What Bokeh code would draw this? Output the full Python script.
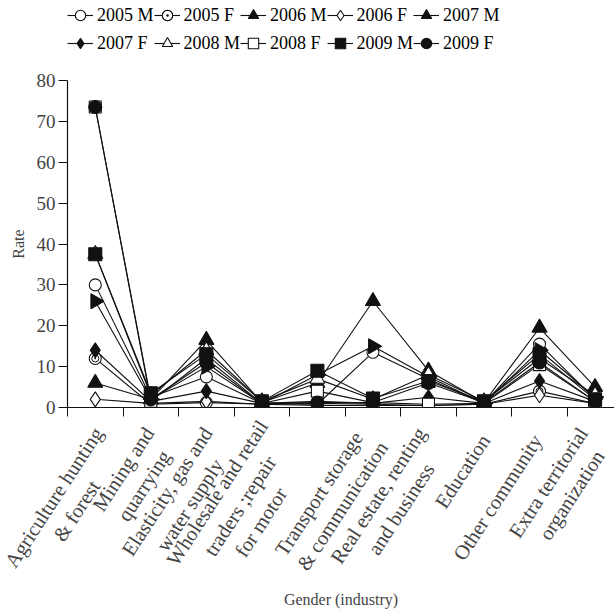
import numpy as np
from bokeh.plotting import figure
from bokeh.layouts import column
from bokeh.models import Range1d, FixedTicker, Legend, LegendItem
from bokeh.embed import file_html
from bokeh.resources import INLINE

# ---- data ----
industry_labels = [
    "Agriculture hunting\n& forest" + " " * 9,
    "Mining and\nquarrying  ",
    "Elasticity, gas and\nwater supply    ",
    "Wholesale and retail\ntraders ;repair     \nfor motor" + " " * 9,
    "Transport storage \n& communication",
    "Real estate, renting\nand business     ",
    "Education",
    "Other community",
    "Extra territorial\norganization  ",
]
point_slots = [0, 1, 2, 3, 4, 5, 6, 7, 8, 9]
y_ticks = [0, 10, 20, 30, 40, 50, 60, 70, 80]

m2005 = [30, 2.5, 7.5, 1, 0.8, 13.5, 7, 1, 15.5, 2]
f2005 = [12, 0.8, 1.2, 0.8, 0.5, 0.5, 0.5, 0.8, 4, 1]
m2006 = [6, 2, 16.5, 1.2, 6, 26, 9, 1.2, 19.5, 5]
f2006 = [2, 1, 1.5, 0.8, 1, 0.8, 0.5, 0.8, 3, 1]
m2007 = [26, 2, 10, 1, 8, 15, 7.5, 1, 14, 2.5]
f2007 = [14, 1.5, 4, 1, 1.5, 1, 2.5, 1, 6.5, 1.5]
m2008 = [37.5, 3, 14, 1.5, 7, 2, 8, 1.5, 12, 3]
f2008 = [73.5, 1.5, 12, 1, 4, 1.2, 0.8, 1, 10.5, 1.5]
m2009 = [37.5, 3.5, 13, 1.5, 9, 2.2, 6.5, 1.5, 13, 2]
f2009 = [73.5, 2, 11, 1, 1.2, 1.2, 6, 1.2, 11, 1.5]

series_names = ["2005 M", "2005 F", "2006 M", "2006 F", "2007 M",
                "2007 F", "2008 M", "2008 F", "2009 M", "2009 F"]
series_values = [m2005, f2005, m2006, f2006, m2007, f2007, m2008, f2008, m2009, f2009]

# ---- layout constants ----
label_slots = [0.23, 1.17, 2.22, 3.42, 4.98, 6.07, 7.02, 7.96, 8.98]
slot_bounds = [-0.5, 0.5, 1.5, 2.5, 3.5, 4.5, 5.5, 6.5, 7.5, 8.5, 9.5]

FONT = "Liberation Serif"
BLACK = "#111111"

# marker styles: (marker, fill, size, angle)
styles = [
    ("circle", "white", 12, 0.0),
    ("circle", "white", 12, 0.0),
    ("triangle", BLACK, 15, 0.0),
    ("diamond", "white", 15, 0.0),
    ("triangle", BLACK, 15, -np.pi / 2),
    ("diamond", BLACK, 15, 0.0),
    ("triangle", "white", 15, 0.0),
    ("square", "white", 12, 0.0),
    ("square", BLACK, 13, 0.0),
    ("circle", BLACK, 13, 0.0),
]


def draw_series(fig, name, vals, style):
    mk, fill, sz, ang = style
    rs = [fig.line(point_slots, vals, line_color=BLACK, line_width=1.1)]
    rs.append(fig.scatter(point_slots, vals, marker=mk, size=sz, angle=ang,
                          fill_color=fill, line_color=BLACK, line_width=1.1))
    if name == "2005 F":
        rs.append(fig.scatter(point_slots, vals, marker="circle_dot", size=7,
                              fill_color=None, line_color=BLACK, line_width=1.0))
    return rs


# ---- main chart ----
p = figure(width=614, height=542, output_backend="svg", toolbar_location=None,
           x_range=Range1d(-0.5, 9.35), y_range=Range1d(0, 80),
           min_border_left=67, min_border_right=0, min_border_top=12,
           min_border_bottom=201)
p.outline_line_color = None
p.xgrid.visible = False
p.ygrid.visible = False

for name, vals, st in zip(series_names, series_values, styles):
    draw_series(p, name, vals, st)

# y axis
p.yaxis.ticker = FixedTicker(ticks=y_ticks)
p.yaxis.axis_label = "Rate"
p.yaxis.axis_label_text_font = FONT
p.yaxis.axis_label_text_font_style = "normal"
p.yaxis.axis_label_text_font_size = "16px"
p.yaxis.axis_label_standoff = 7
p.yaxis.major_label_text_font = FONT
p.yaxis.major_label_text_font_size = "19px"
p.yaxis.major_tick_out = 9
p.yaxis.major_tick_in = 0
p.yaxis.minor_tick_out = 0
p.yaxis.minor_tick_in = 0
p.yaxis.major_label_standoff = 3
p.yaxis.axis_line_width = 1.2
p.yaxis.axis_line_color = BLACK
p.yaxis.major_tick_line_color = BLACK

# x axis: slot-boundary tick marks, category texts as rotated labels
p.xaxis.ticker = FixedTicker(ticks=label_slots, minor_ticks=slot_bounds)
p.xaxis.major_label_overrides = {s: t for s, t in zip(label_slots, industry_labels)}
p.xaxis.major_label_orientation = np.pi * 57 / 180
p.xaxis.major_label_text_font = FONT
p.xaxis.major_label_text_font_size = "20.5px"
p.xaxis.major_label_standoff = 20
p.xaxis.major_tick_out = 0
p.xaxis.major_tick_in = 0
p.xaxis.minor_tick_out = 9
p.xaxis.minor_tick_in = 0
p.xaxis.minor_tick_line_color = BLACK
p.xaxis.axis_line_width = 1.2
p.xaxis.axis_line_color = BLACK
p.xaxis.axis_label = "Gender (industry)"
p.xaxis.axis_label_text_font = FONT
p.xaxis.axis_label_text_font_style = "normal"
p.xaxis.axis_label_text_font_size = "16px"
p.xaxis.axis_label_standoff = -31

# ---- legend strip (same series, drawn out of view, only the legend shows) ----
lf = figure(width=614, height=68, output_backend="svg", toolbar_location=None,
            x_range=Range1d(100, 101), y_range=Range1d(100, 101),
            x_axis_location=None, y_axis_location=None, min_border=0)
lf.xgrid.visible = False
lf.ygrid.visible = False
lf.outline_line_color = None

items = []
for name, vals, st in zip(series_names, series_values, styles):
    items.append(LegendItem(label=name, renderers=draw_series(lf, name, vals, st)))

legend = Legend(items=items, location=(0, 11), orientation="horizontal", ncols=5,
                label_text_font=FONT, label_text_font_size="18px",
                label_text_color="black", glyph_width=26, glyph_height=28,
                label_standoff=4, spacing=0, padding=0, margin=0,
                border_line_color=None, background_fill_alpha=0)
lf.add_layout(legend, "center")

layout = column(lf, p, spacing=0)
open("out.html", "w").write(file_html(layout, INLINE))
